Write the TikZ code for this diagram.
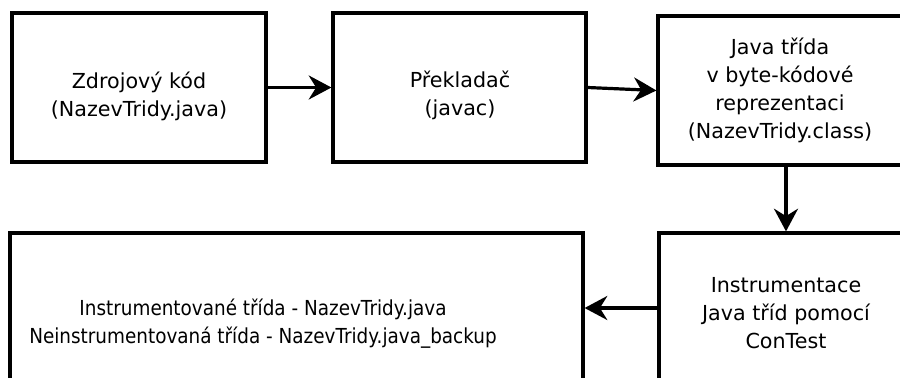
\documentclass[tikz,border=0pt]{standalone}
\usepackage{fontspec}
\setmainfont{DejaVu Sans}
\newfontfamily\narrowfont[FakeStretch = 0.89]{DejaVu Sans}
\usetikzlibrary{arrows.meta}
\tikzset{
    box/.style = {draw, line width = 2.4pt, rectangle, inner sep = 0pt, align = center, font = \fontsize{15.5}{21}\selectfont},
    txt/.style = {align = center, font = \fontsize{15.5}{21}\selectfont},
    arr/.style = {line width = 2.4pt, -{Stealth[length = 17pt, width = 18pt]}},
}
\begin{document}
\begin{tikzpicture}[x = 0.75pt, y = -0.75pt]
\clip (0,0) rectangle (900,378);
\node[box, minimum width = 190.5pt, minimum height = 111.75pt] (src) at (139,87.5) {};
\node[txt] (srctext) at (139,96.5) {Zdrojový kód\\(NazevTridy.java)};
\node[box, minimum width = 189.75pt, minimum height = 111.75pt] (comp) at (459.5,87.5) {};
\node[txt] (comptext) at (460,95) {Překladač\\(javac)};
\node[box, minimum width = 183pt, minimum height = 111.75pt] (cls) at (780,90.5) {Java třída\\v byte-kódové\\reprezentaci\\(NazevTridy.class)};
\node[box, minimum width = 190.5pt, minimum height = 120pt] (instr) at (786,313) {Instrumentace\\Java tříd pomocí\\ConTest};
\node[box, minimum width = 429.75pt, minimum height = 135pt] (out) at (296.5,323) {};
\node[txt, font = \fontsize{15.5}{21}\narrowfont] (outtext) at (263,324) {Instrumentované třída - NazevTridy.java\\Neinstrumentovaná třída - NazevTridy.java\_backup};
\coordinate (ay) at (0,308);
\draw[arr] (src.east) -- (comp.west);
\draw[arr] (comp.east) -- (cls.west);
\draw[arr] (cls.south -| instr.north) -- (instr.north);
\draw[arr] (instr.west |- ay) -- (out.east |- ay);
\end{tikzpicture}
\end{document}
